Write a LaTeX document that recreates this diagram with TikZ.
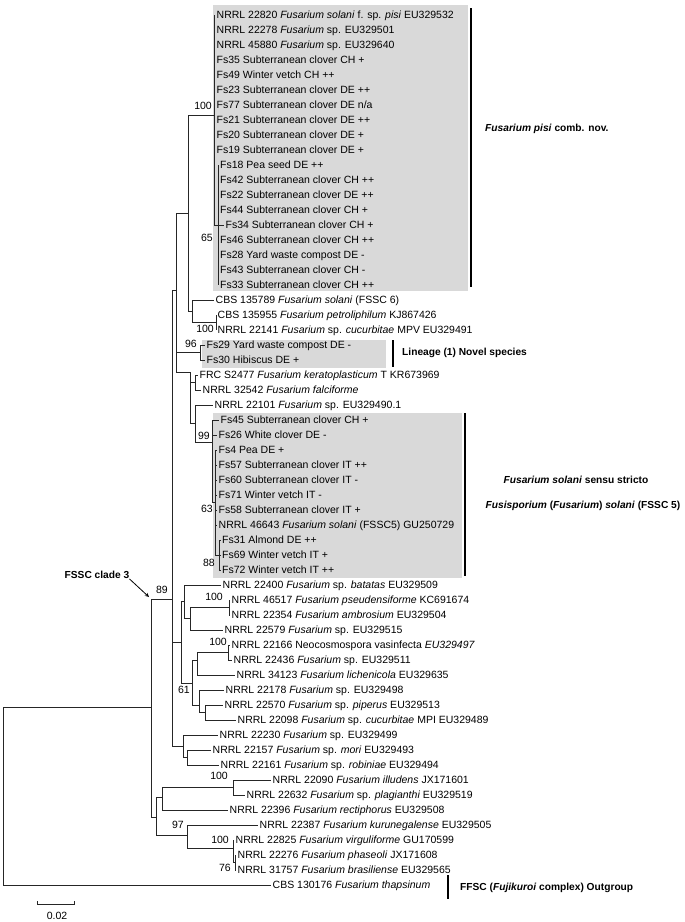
\documentclass[tikz,border=0pt]{standalone}
\usepackage{fontspec}
\setmainfont{Liberation Sans}
\usepackage{tikz}
\usetikzlibrary{arrows}
\definecolor{boxgray}{RGB}{217,217,217}
\tikzstyle{leaf} = [anchor=west, inner xsep=1.5pt, inner ysep=0pt, text height=7.5pt, text depth=0pt, font=\fontsize{10.5}{12}\selectfont]
\tikzstyle{boot} = [anchor=east, inner sep=0pt, text height=7.5pt, text depth=0pt, font=\fontsize{10.5}{12}\selectfont]
\tikzstyle{clade} = [anchor=west, inner sep=0pt, text height=7.5pt, text depth=0pt, font=\fontsize{10.2}{12}\selectfont\bfseries]
\tikzstyle{treeline} = [line width=0.8pt, black!85]
\tikzstyle{cladebar} = [line width=2.5pt]
\tikzstyle{arrow} = [thick,->,>=stealth]

\begin{document}
\begin{tikzpicture}[x=1pt, y=-1pt]
\useasboundingbox (0,0) rectangle (685,922);

% shaded groups
\fill [boxgray] (213,5) rectangle (468,291);
\fill [boxgray] (202,340) rectangle (386,368);
\fill [boxgray] (213,413) rectangle (462,578);

% leaves
\node (nrrl22820) [leaf] at (215,15) {NRRL 22820 \textit{Fusarium solani} f. sp. \textit{pisi} EU329532};
\node (nrrl22278) [leaf] at (215,30) {NRRL 22278 \textit{Fusarium} sp. EU329501};
\node (nrrl45880) [leaf] at (215,45) {NRRL 45880 \textit{Fusarium} sp. EU329640};
\node (fs35) [leaf] at (215,60) {Fs35 Subterranean clover CH +};
\node (fs49) [leaf] at (215,75) {Fs49 Winter vetch CH ++};
\node (fs23) [leaf] at (215,90) {Fs23 Subterranean clover DE ++};
\node (fs77) [leaf] at (215,105) {Fs77 Subterranean clover DE n/a};
\node (fs21) [leaf] at (215,120) {Fs21 Subterranean clover DE ++};
\node (fs20) [leaf] at (215,135) {Fs20 Subterranean clover DE +};
\node (fs19) [leaf] at (215,150) {Fs19 Subterranean clover DE +};
\node (fs18) [leaf] at (218.5,165) {Fs18 Pea seed DE ++};
\node (fs42) [leaf] at (218.5,180) {Fs42 Subterranean clover CH ++};
\node (fs22) [leaf] at (218.5,195) {Fs22 Subterranean clover DE ++};
\node (fs44) [leaf] at (218.5,210) {Fs44 Subterranean clover CH +};
\node (fs34) [leaf] at (224,225) {Fs34 Subterranean clover CH +};
\node (fs46) [leaf] at (218.5,240) {Fs46 Subterranean clover CH ++};
\node (fs28) [leaf] at (218.5,255) {Fs28 Yard waste compost DE -};
\node (fs43) [leaf] at (218.5,270) {Fs43 Subterranean clover CH -};
\node (fs33) [leaf] at (218.5,285) {Fs33 Subterranean clover CH ++};
\node (cbs135789) [leaf] at (214,300) {CBS 135789 \textit{Fusarium solani} (FSSC 6)};
\node (cbs135955) [leaf] at (216,315) {CBS 135955 \textit{Fusarium petroliphilum} KJ867426};
\node (nrrl22141) [leaf] at (216,330) {NRRL 22141 \textit{Fusarium} sp. \textit{cucurbitae} MPV EU329491};
\node (fs29) [leaf] at (205,345) {Fs29 Yard waste compost DE -};
\node (fs30) [leaf] at (205,360) {Fs30 Hibiscus DE +};
\node (frcS2477) [leaf] at (198,375) {FRC S2477 \textit{Fusarium keratoplasticum} T KR673969};
\node (nrrl32542) [leaf] at (201,390) {NRRL 32542 \textit{Fusarium falciforme}};
\node (nrrl22101) [leaf] at (213,405) {NRRL 22101 \textit{Fusarium} sp. EU329490.1};
\node (fs45) [leaf] at (219,420) {Fs45 Subterranean clover CH +};
\node (fs26) [leaf] at (217,435) {Fs26 White clover DE -};
\node (fs4) [leaf] at (217,450) {Fs4 Pea DE +};
\node (fs57) [leaf] at (217,465) {Fs57 Subterranean clover IT ++};
\node (fs60) [leaf] at (217,480) {Fs60 Subterranean clover IT -};
\node (fs71) [leaf] at (217,495) {Fs71 Winter vetch IT -};
\node (fs58) [leaf] at (217,510) {Fs58 Subterranean clover IT +};
\node (nrrl46643) [leaf] at (217,525) {NRRL 46643 \textit{Fusarium solani} (FSSC5) GU250729};
\node (fs31) [leaf] at (220.5,540) {Fs31 Almond DE ++};
\node (fs69) [leaf] at (220.5,555) {Fs69 Winter vetch IT +};
\node (fs72) [leaf] at (220.5,570) {Fs72 Winter vetch IT ++};
\node (nrrl22400) [leaf] at (221,585) {NRRL 22400 \textit{Fusarium} sp. \textit{batatas} EU329509};
\node (nrrl46517) [leaf] at (230,600) {NRRL 46517 \textit{Fusarium pseudensiforme} KC691674};
\node (nrrl22354) [leaf] at (230,615) {NRRL 22354 \textit{Fusarium ambrosium} EU329504};
\node (nrrl22579) [leaf] at (223,630) {NRRL 22579 \textit{Fusarium} sp. EU329515};
\node (nrrl22166) [leaf] at (230,645) {NRRL 22166 Neocosmospora vasinfecta \textit{EU329497}};
\node (nrrl22436) [leaf] at (232,660) {NRRL 22436 \textit{Fusarium} sp. EU329511};
\node (nrrl34123) [leaf] at (235,675) {NRRL 34123 \textit{Fusarium lichenicola} EU329635};
\node (nrrl22178) [leaf] at (224,690) {NRRL 22178 \textit{Fusarium} sp. EU329498};
\node (nrrl22570) [leaf] at (223,705) {NRRL 22570 \textit{Fusarium} sp. \textit{piperus} EU329513};
\node (nrrl22098) [leaf] at (236,720) {NRRL 22098 \textit{Fusarium} sp. \textit{cucurbitae} MPI EU329489};
\node (nrrl22230) [leaf] at (218,735) {NRRL 22230 \textit{Fusarium} sp. EU329499};
\node (nrrl22157) [leaf] at (211,750) {NRRL 22157 \textit{Fusarium} sp. \textit{mori} EU329493};
\node (nrrl22161) [leaf] at (219,765) {NRRL 22161 \textit{Fusarium} sp. \textit{robiniae} EU329494};
\node (nrrl22090) [leaf] at (271,780) {NRRL 22090 \textit{Fusarium illudens} JX171601};
\node (nrrl22632) [leaf] at (245,795) {NRRL 22632 \textit{Fusarium} sp. \textit{plagianthi} EU329519};
\node (nrrl22396) [leaf] at (228,810) {NRRL 22396 \textit{Fusarium rectiphorus} EU329508};
\node (nrrl22387) [leaf] at (258,825) {NRRL 22387 \textit{Fusarium kurunegalense} EU329505};
\node (nrrl22825) [leaf] at (234,840) {NRRL 22825 \textit{Fusarium virguliforme} GU170599};
\node (nrrl22276) [leaf] at (236,855) {NRRL 22276 \textit{Fusarium phaseoli} JX171608};
\node (nrrl31757) [leaf] at (236,870) {NRRL 31757 \textit{Fusarium brasiliense} EU329565};
\node (cbs130176) [leaf] at (271,885) {CBS 130176 \textit{Fusarium thapsinum}};

% internal nodes
\coordinate (root) at (3,796);
\coordinate (n89) at (151,707);
\coordinate (upper) at (172,599);
\coordinate (lower) at (156,817);
\coordinate (pisiGroup) at (176,290);
\coordinate (pisiCbs) at (188,213);
\coordinate (pisiNode) at (214,115);
\coordinate (pisiSub) at (218.5,225);
\coordinate (cbsNode) at (192,311);
\coordinate (cbsPair) at (216,322);
\coordinate (novelNode) at (200,352);
\coordinate (keratoGroup) at (190,372);
\coordinate (frcPair) at (195,382);
\coordinate (solaniGroup) at (195,423);
\coordinate (node99) at (212,442);
\coordinate (node63) at (215,502);
\coordinate (node88) at (219,555);
\coordinate (midGroup) at (181,642);
\coordinate (batatasGroup) at (184,601);
\coordinate (ambrosiaGroup) at (190,618);
\coordinate (node100a) at (229,607);
\coordinate (node61) at (192,683);
\coordinate (neoGroup) at (197,660);
\coordinate (node100b) at (228,652);
\coordinate (piperGroup) at (199,705);
\coordinate (cucGroup) at (205,712);
\coordinate (clade22230) at (183,746);
\coordinate (moriGroup) at (187,757);
\coordinate (illudensGroup) at (162,797);
\coordinate (node100c) at (233,787);
\coordinate (node97) at (187,835);
\coordinate (node100d) at (233,848);
\coordinate (node76) at (235,862);

% branches
\draw [treeline] (root) |- (n89) (root) |- (cbs130176.west);
\draw [treeline] (n89) |- (upper) (n89) |- (lower);
\draw [treeline] (upper) |- (pisiGroup) (upper) |- (midGroup) (upper) |- (clade22230);
\draw [treeline] (pisiGroup) |- (pisiCbs) (pisiGroup) |- (novelNode) (pisiGroup) |- (keratoGroup);
\draw [treeline] (pisiCbs) |- (pisiNode) (pisiCbs) |- (cbsNode);
\draw [treeline] (pisiNode) |- (nrrl22820.west) (pisiNode) |- (nrrl22278.west) (pisiNode) |- (nrrl45880.west)
  (pisiNode) |- (fs35.west) (pisiNode) |- (fs49.west) (pisiNode) |- (fs23.west) (pisiNode) |- (fs77.west)
  (pisiNode) |- (fs21.west) (pisiNode) |- (fs20.west) (pisiNode) |- (fs19.west) (pisiNode) |- (pisiSub);
\draw [treeline] (pisiSub) |- (fs18.west) (pisiSub) |- (fs42.west) (pisiSub) |- (fs22.west) (pisiSub) |- (fs44.west)
  (pisiSub) |- (fs34.west) (pisiSub) |- (fs46.west) (pisiSub) |- (fs28.west) (pisiSub) |- (fs43.west) (pisiSub) |- (fs33.west);
\draw [treeline] (cbsNode) |- (cbs135789.west) (cbsNode) |- (cbsPair);
\draw [treeline] (cbsPair) |- (cbs135955.west) (cbsPair) |- (nrrl22141.west);
\draw [treeline] (novelNode) |- (fs29.west) (novelNode) |- (fs30.west);
\draw [treeline] (keratoGroup) |- (frcPair) (keratoGroup) |- (solaniGroup);
\draw [treeline] (frcPair) |- (frcS2477.west) (frcPair) |- (nrrl32542.west);
\draw [treeline] (solaniGroup) |- (nrrl22101.west) (solaniGroup) |- (node99);
\draw [treeline] (node99) |- (fs45.west) (node99) |- (fs26.west) (node99) |- (node63);
\draw [treeline] (node63) |- (fs4.west) (node63) |- (fs57.west) (node63) |- (fs60.west) (node63) |- (fs71.west)
  (node63) |- (fs58.west) (node63) |- (nrrl46643.west) (node63) |- (node88);
\draw [treeline] (node88) |- (fs31.west) (node88) |- (fs69.west) (node88) |- (fs72.west);
\draw [treeline] (midGroup) |- (batatasGroup) (midGroup) |- (node61);
\draw [treeline] (batatasGroup) |- (nrrl22400.west) (batatasGroup) |- (ambrosiaGroup);
\draw [treeline] (ambrosiaGroup) |- (node100a) (ambrosiaGroup) |- (nrrl22579.west);
\draw [treeline] (node100a) |- (nrrl46517.west) (node100a) |- (nrrl22354.west);
\draw [treeline] (node61) |- (neoGroup) (node61) |- (piperGroup);
\draw [treeline] (neoGroup) |- (node100b) (neoGroup) |- (nrrl34123.west);
\draw [treeline] (node100b) |- (nrrl22166.west) (node100b) |- (nrrl22436.west);
\draw [treeline] (piperGroup) |- (nrrl22178.west) (piperGroup) |- (cucGroup);
\draw [treeline] (cucGroup) |- (nrrl22570.west) (cucGroup) |- (nrrl22098.west);
\draw [treeline] (clade22230) |- (nrrl22230.west) (clade22230) |- (moriGroup);
\draw [treeline] (moriGroup) |- (nrrl22157.west) (moriGroup) |- (nrrl22161.west);
\draw [treeline] (lower) |- (illudensGroup) (lower) |- (node97);
\draw [treeline] (illudensGroup) |- (node100c) (illudensGroup) |- (nrrl22396.west);
\draw [treeline] (node100c) |- (nrrl22090.west) (node100c) |- (nrrl22632.west);
\draw [treeline] (node97) |- (nrrl22387.west) (node97) |- (node100d);
\draw [treeline] (node100d) |- (nrrl22825.west) (node100d) |- (node76);
\draw [treeline] (node76) |- (nrrl22276.west) (node76) |- (nrrl31757.west);

% bootstrap values
\node (bsPisi) [boot] at (212,106) {100};
\node (bs65) [boot] at (213,238) {65};
\node (bsCbs) [boot] at (214,329) {100};
\node (bs96) [boot] at (197,344) {96};
\node (bs99) [boot] at (210,436) {99};
\node (bs63) [boot] at (213,509) {63};
\node (bs88) [boot] at (215,563) {88};
\node (bs89) [boot] at (168,590) {89};
\node (bs100a) [boot] at (223,597) {100};
\node (bs100b) [boot] at (227,642) {100};
\node (bs61) [boot] at (190,690) {61};
\node (bs100c) [boot] at (228,776) {100};
\node (bs97) [boot] at (184,825) {97};
\node (bs100d) [boot] at (229,840) {100};
\node (bs76) [boot] at (231,868) {76};

% clade bars and names
\draw [cladebar] (471,8) -- (471,287);
\draw [cladebar] (393,340) -- (393,367);
\draw [cladebar] (465,413) -- (465,576);
\draw [cladebar] (448,875) -- (448,899);
\node (pisiLabel) [clade] at (485,128) {\textit{Fusarium pisi} comb. nov.};
\node (novelLabel) [clade] at (402,352) {Lineage (1) Novel species};
\node (solaniLabel) [clade, anchor=center] at (576,480) {\textit{Fusarium solani} sensu stricto};
\node (fusisLabel) [clade, anchor=center] at (583,505) {\textit{Fusisporium} (\textit{Fusarium}) \textit{solani} (FSSC 5)};
\node (ffscLabel) [clade] at (460,887) {FFSC (\textit{Fujikuroi} complex) Outgroup};
\node (fsscLabel) [clade, anchor=center] at (97,575) {FSSC clade 3};
\coordinate (n89top) at (149,597);
\draw [arrow] (fsscLabel.south east) -- (n89top);

% scale bar
\coordinate (scaleL) at (37,904);
\coordinate (scaleR) at (74,904);
\draw [treeline] (scaleL) ++(0,-3) -- (scaleL) -- (scaleR) -- ++(0,-3);
\node (scaleText) [boot, anchor=center] at (57,916) {0.02};
\end{tikzpicture}
\end{document}
